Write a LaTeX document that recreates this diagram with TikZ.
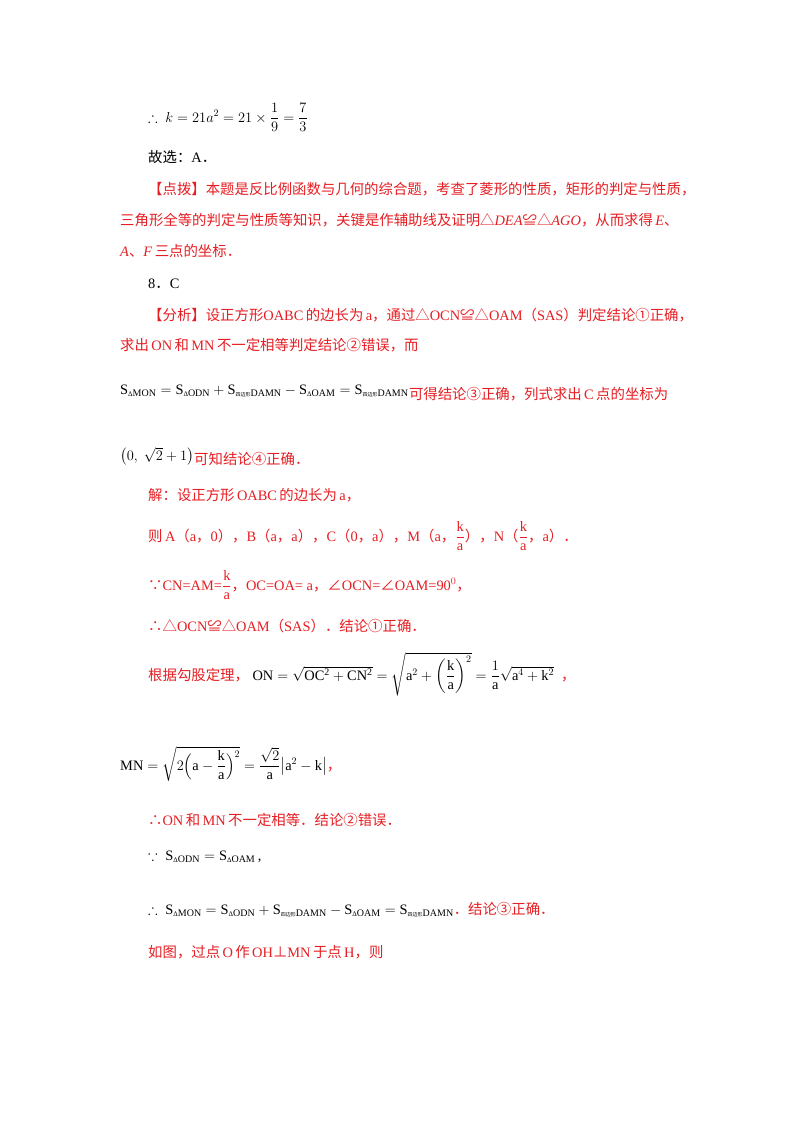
\documentclass[tikz,border=0pt]{standalone}
\usepackage{amsmath,amssymb}
\usepackage{fontspec}
\setmainfont{Liberation Serif}
\newfontfamily\cjk{Noto Sans CJK SC}
\definecolor{rd}{RGB}{230,30,35}
\newcommand{\zh}[1]{{\cjk #1}}
\newcommand{\D}{\text{\scriptsize Δ}}
\newcommand{\qb}{\text{\cjk\tiny 四边形}}
\begin{document}
\begin{tikzpicture}[x=1pt,y=1pt,
  t/.style={anchor=base west,inner sep=0pt,font=\fontsize{14.4}{17}\selectfont},
  r/.style={t,text=rd}]
\useasboundingbox (0,0) rectangle (800,-1132);
\fill[white] (0,0) rectangle (800,-1132);
\node[t] (l1) at (148,-122) {$\therefore\ k=21a^2=21\times\dfrac19=\dfrac73$};
\node[t] (l2) at (148,-162) {\zh{故选：}A\zh{．}};
\node[r] (l3) at (148,-194) {\zh{【点拨】本题是反比例函数与几何的综合题，考查了菱形的性质，矩形的判定与性质，}};
\node[r] (l4) at (120,-225) {\zh{三角形全等的判定与性质等知识，关键是作辅助线及证明△}\textit{DEA}\zh{≌△}\textit{AGO}\zh{，从而求得}\,\textit{E}\zh{、}};
\node[r] (l5) at (120,-256) {\textit{A}\zh{、}\textit{F}\,\zh{三点的坐标．}};
\node[t] (l6) at (148,-288) {8\zh{．}C};
\node[r] (l7) at (148,-320) {\zh{【分析】设正方形}OABC\,\zh{的边长为}\,a\zh{，通过△}OCN\zh{≌△}OAM\zh{（}SAS\zh{）判定结论①正确，}};
\node[r] (l8) at (120,-350) {\zh{求出}\,ON\,\zh{和}\,MN\,\zh{不一定相等判定结论②错误，而}};
\node[t] (l9) at (120,-394) {$\mathrm{S_{\D MON}=S_{\D ODN}+S_{\qb DAMN}-S_{\D OAM}=S_{\qb DAMN}}$};
\node[r,anchor=base west] (l9b) at (l9.base east) {\raisebox{-5pt}{\zh{可得结论③正确，列式求出}\,C\,\zh{点的坐标为}}};
\node[t] (l10) at (120,-460) {$\bigl(0,\ \sqrt2+1\bigr)$};
\node[r,anchor=base west] (l10b) at ([yshift=-4pt]l10.base east) {\zh{可知结论④正确．}};
\node[r] (l11) at (148,-500) {\zh{解：设正方形}\,OABC\,\zh{的边长为}\,a\zh{，}};
\node[r] (l12) at (148,-541) {\zh{则}\,A\zh{（}a\zh{，}0\zh{），}B\zh{（}a\zh{，}a\zh{），}C\zh{（}0\zh{，}a\zh{），}M\zh{（}a\zh{，}$\dfrac{\mathrm k}{\mathrm a}$\zh{），}N\zh{（}$\dfrac{\mathrm k}{\mathrm a}$\zh{，}a\zh{）．}};
\node[r] (l13) at (148,-590) {\zh{∵}CN=AM=$\dfrac{\mathrm k}{\mathrm a}$\zh{，}OC=OA= a\zh{，∠}OCN=\zh{∠}OAM=90$^0$\zh{，}};
\node[r] (l14) at (148,-631) {\zh{∴△}OCN\zh{≌△}OAM\zh{（}SAS\zh{）．结论①正确．}};
\node[r] (l15) at (148,-680) {\zh{根据勾股定理，}\ \textcolor{black}{$\mathrm{ON}=\sqrt{\mathrm{OC^2+CN^2}}=\sqrt{\mathrm a^2+\left(\dfrac{\mathrm k}{\mathrm a}\right)^2}=\dfrac{1}{\mathrm a}\sqrt{\mathrm a^4+\mathrm k^2}$}\ \ \zh{，}};
\node[t] (l16) at (120,-770) {$\mathrm{MN}=\sqrt{2\Bigl(\mathrm a-\dfrac{\mathrm k}{\mathrm a}\Bigr)^2}=\dfrac{\sqrt2}{\mathrm a}\bigl|\mathrm a^2-\mathrm k\bigr|$\textcolor{rd}{\zh{，}}};
\node[r] (l17) at (148,-825) {\zh{∴}ON\,\zh{和}\,MN\,\zh{不一定相等．结论②错误．}};
\node[t] (l18) at (148,-860) {$\because\ \mathrm{S_{\D ODN}=S_{\D OAM}}$\,,};
\node[t] (l19) at (148,-914) {$\therefore\ \mathrm{S_{\D MON}=S_{\D ODN}+S_{\qb DAMN}-S_{\D OAM}=S_{\qb DAMN}}$\textcolor{rd}{\zh{．结论③正确．}}};
\node[r] (l20) at (148,-957) {\zh{如图，过点}\,O\,\zh{作}\,OH\zh{⊥}MN\,\zh{于点}\,H\zh{，则}};
\end{tikzpicture}
\end{document}
